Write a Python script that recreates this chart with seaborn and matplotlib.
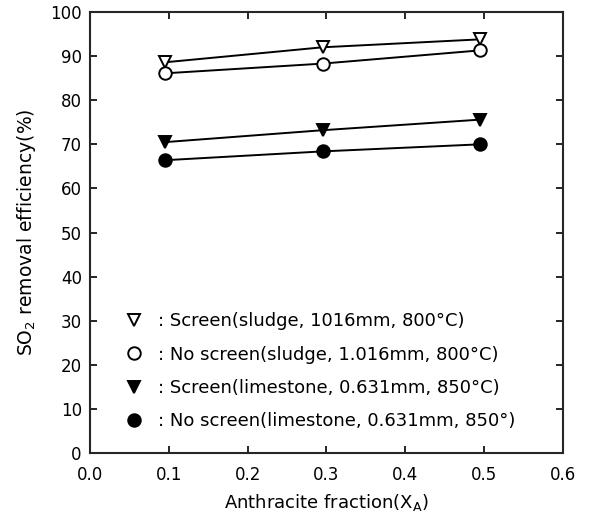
import matplotlib
matplotlib.use('Agg')
import matplotlib.pyplot as plt
from matplotlib.lines import Line2D
import seaborn as sns
import pandas as pd

# anthracite fraction
x_frac = [0.095, 0.295, 0.495]

# SO2 removal efficiency (%)
screen_sludge = [88.6, 92.0, 93.8]
noscreen_sludge = [86.1, 88.3, 91.3]
screen_lime = [70.5, 73.2, 75.6]
noscreen_lime = [66.4, 68.4, 70.0]

labels = [': Screen(sludge, 1016mm, 800°C)',
          ': No screen(sludge, 1.016mm, 800°C)',
          ': Screen(limestone, 0.631mm, 850°C)',
          ': No screen(limestone, 0.631mm, 850°)']

sns.set_style('ticks')
plt.rcParams['font.family'] = ['DejaVu Sans']
plt.rcParams['text.color'] = 'black'
plt.rcParams['axes.labelcolor'] = 'black'
plt.rcParams['xtick.color'] = 'black'
plt.rcParams['ytick.color'] = 'black'

fig = plt.figure(figsize=(5.93, 5.22), dpi=100)
ax = fig.add_axes([0.152, 0.132, 0.797, 0.845])

series = [screen_sludge, noscreen_sludge, screen_lime, noscreen_lime]
markers = ['v', 'o', 'v', 'o']
facecol = ['white', 'white', 'black', 'black']
msizes = [8, 9, 8, 9]

handles = []
for vals, m, fc, ms in zip(series, markers, facecol, msizes):
    df = pd.DataFrame({'x': x_frac, 'y': vals})
    sns.lineplot(data=df, x='x', y='y', ax=ax, color='black', lw=1.4,
                 marker=m, markersize=ms, markerfacecolor=fc,
                 markeredgecolor='black', markeredgewidth=1.4)
    handles.append(Line2D([], [], ls='none', marker=m, markersize=ms,
                          markerfacecolor=fc, markeredgecolor='black', markeredgewidth=1.4))

ax.set_xlim(0, 0.6)
ax.set_ylim(0, 100)
ax.set_xticks([0.0, 0.1, 0.2, 0.3, 0.4, 0.5, 0.6])
ax.set_xticklabels(['0.0', '0.1', '0.2', '0.3', '0.4', '0.5', '0.6'])
ax.set_yticks(range(0, 101, 10))
ax.tick_params(direction='in', top=True, right=True, length=5, width=1.2,
               labelsize=12)
ax.tick_params(axis='x', pad=9)
ax.tick_params(axis='y', pad=6)
for s in ax.spines.values():
    s.set_linewidth(1.5)
    s.set_visible(True)

ax.set_xlabel('Anthracite fraction(X$_\\mathregular{A}$)', fontsize=13, labelpad=6)
ax.set_ylabel('SO$_\\mathregular{2}$ removal efficiency(%)', fontsize=13.5, labelpad=9)

ax.legend(handles, labels, loc='lower left', bbox_to_anchor=(0.04, 0.035),
          frameon=False, fontsize=13, handletextpad=0.3, labelspacing=0.85,
          borderaxespad=0)

fig.savefig('out.png', dpi=100)
